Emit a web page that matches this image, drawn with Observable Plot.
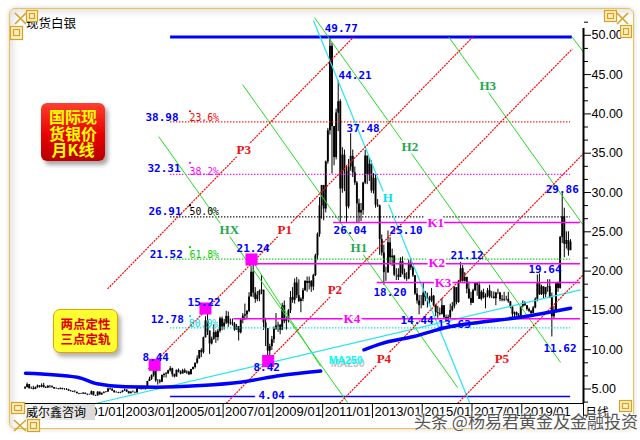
<!DOCTYPE html>
<html>
<head>
<meta charset="utf-8">
<script src="https://cdn.jsdelivr.net/npm/d3@7"></script>
<script src="https://cdn.jsdelivr.net/npm/@observablehq/plot@0.6"></script>
<style>
html,body{margin:0;padding:0;background:#fff;}
#wrap{position:relative;width:640px;height:440px;overflow:hidden;background:#fff;font-family:"Noto Sans CJK SC",sans-serif;}
#frame{position:absolute;left:9px;top:8px;width:623px;height:419px;border:1.5px solid #eec24a;border-radius:6px;box-shadow:0 0 5px rgba(0,0,0,.18), inset 4px 4px 6px rgba(0,0,0,.10);}
#chart{position:absolute;left:0;top:0;}
.ab{position:absolute;white-space:nowrap;}
#title{left:26px;top:16px;font-size:12.5px;line-height:14px;color:#000;}
#badge1{left:41px;top:103px;width:64px;height:58px;border-radius:6px;background:linear-gradient(#ff4030,#e80000 55%,#b80000);box-shadow:3px 4px 4px rgba(0,0,0,.35);color:#ffff00;font-weight:bold;font-size:16px;line-height:16.5px;text-align:center;padding-top:5px;box-sizing:border-box;}
#badge2{left:53px;top:309px;width:65px;height:44px;border-radius:7px;background:#ffff30;border:1.5px solid #e8a000;box-shadow:3px 4px 4px rgba(0,0,0,.3);color:#e00000;font-weight:bold;font-size:12.5px;line-height:15px;text-align:center;padding-top:6px;box-sizing:border-box;}
#src{left:23px;top:404px;width:72px;height:16px;background:linear-gradient(90deg,#f6f6f6,#dadada);font-size:12px;line-height:16px;padding-left:3px;box-sizing:border-box;color:#000;}
#period{left:585px;top:403px;font-size:12px;color:#000;}
#wm{left:414px;top:408px;font-size:17px;color:#555;text-shadow:0 0 2px #fff,0 0 2px #fff,0 0 3px #fff;}
</style>
</head>
<body>
<div id="wrap">
  <div id="frame"></div>
  <div id="chart"></div>
  <div class="ab" id="title">现货白银</div>
  <div class="ab" id="badge1">国际现<br>货银价<br>月K线</div>
  <div class="ab" id="badge2">两点定性<br>三点定轨</div>
  <div class="ab" id="src">威尔鑫咨询</div>
  <div class="ab" id="period">月线</div>
  <svg class="ab" style="left:0;top:0" width="640" height="440">
    <g fill="#fbefc4" stroke="#d4a326" stroke-width="1.2">
      <rect x="26.5" y="10.5" width="11" height="11"/><rect x="29.5" y="13.5" width="5" height="5" fill="none"/>
      <rect x="10.5" y="26.5" width="12" height="13"/><rect x="13.5" y="29.5" width="6" height="6" fill="none"/>
      <rect x="604.5" y="10.5" width="12" height="11"/><rect x="607.5" y="13.5" width="6" height="5" fill="none"/>
      <rect x="620.5" y="25.5" width="11" height="12"/><rect x="623.5" y="28.5" width="5" height="6" fill="none"/>
      <rect x="11.5" y="402.5" width="13" height="11"/><rect x="14.5" y="405.5" width="7" height="5" fill="none"/>
      <rect x="27.5" y="419.5" width="12" height="12"/><rect x="30.5" y="422.5" width="6" height="6" fill="none"/>
      <rect x="619.5" y="400.5" width="12" height="11"/><rect x="622.5" y="403.5" width="6" height="5" fill="none"/>
    </g>
    <g stroke="#d4a326" stroke-width="1.6">
      <path d="M15 13 L26 24 M26 13 L15 24"/>
      <path d="M617 13 L628 24 M628 13 L617 24"/>
      <path d="M14 420 L26 431 M26 420 L14 431"/>
    </g>
  </svg>
  <div class="ab" id="wm">头条 @杨易君黄金及金融投资</div>
</div>
<script>
// ---------- monthly silver K-line, Jan 1999 .. Dec 2020 ----------
const firstYear = 1999;
const firstOpen = 5.0;
const hi = [
5.30,5.75,5.58,5.25,5.35,5.25,5.50,5.42,5.65,5.72,5.30,5.45,
5.45,5.40,5.20,5.15,5.05,5.15,5.10,5.05,5.05,4.95,4.82,4.72,
4.80,4.60,4.45,4.45,4.55,4.50,4.35,4.35,4.75,4.65,4.20,4.65,
4.62,4.48,4.65,4.65,5.10,5.10,5.05,4.80,4.65,4.60,4.60,4.77,
4.98,4.90,4.70,4.65,4.77,4.62,5.15,5.25,5.35,5.25,5.30,5.97,
6.50,6.80,7.60,8.44,6.20,6.20,6.80,7.00,7.10,7.40,7.85,7.65,
6.90,7.40,7.55,7.30,7.50,7.55,7.30,7.25,7.50,7.80,8.30,9.23,
9.90,10.13,11.60,14.20,15.22,12.40,11.60,13.20,12.40,12.60,14.15,14.15,
13.85,14.90,14.80,13.90,13.90,13.45,13.20,12.95,13.80,14.60,15.80,15.00,
17.25,20.60,21.24,17.90,17.40,17.60,19.45,17.50,14.00,12.70,10.70,11.70,
12.90,14.60,13.50,13.20,15.90,16.20,14.20,15.10,17.40,17.90,19.00,19.20,
18.90,16.60,17.80,18.80,19.25,19.25,18.80,19.60,22.15,24.85,29.35,30.90,
30.80,34.00,38.15,49.77,49.00,38.30,40.60,44.21,41.80,35.70,35.40,33.40,
34.20,37.48,35.40,33.25,31.40,29.15,28.60,31.30,35.35,34.60,34.40,34.00,
32.40,32.25,29.10,28.40,24.60,23.30,20.50,25.10,24.25,22.80,22.00,20.30,
20.30,21.70,21.80,20.25,19.80,21.40,21.60,20.60,19.40,17.80,16.90,16.90,
18.50,17.40,17.20,16.80,17.80,16.90,15.70,15.50,15.30,16.50,15.60,14.40,
14.40,15.80,16.00,18.00,17.80,18.80,21.12,20.70,19.80,19.20,18.60,17.30,
17.70,18.50,18.50,18.60,17.50,17.70,17.10,17.80,18.20,17.40,17.35,17.30,
17.70,17.30,16.90,17.30,16.80,17.30,16.10,15.50,14.80,14.80,14.60,15.50,
16.20,16.10,15.60,15.30,15.00,15.50,16.60,19.50,19.64,18.20,18.00,17.90,
18.90,18.90,17.20,15.50,18.50,18.60,24.40,29.86,28.00,25.00,25.00,24.00
];
const lo = [
4.98,5.15,4.97,4.95,4.88,4.92,5.10,5.12,5.15,5.10,5.05,5.08,
5.10,5.08,4.98,4.95,4.88,4.90,4.88,4.84,4.82,4.70,4.62,4.55,
4.50,4.38,4.27,4.30,4.30,4.30,4.15,4.20,4.22,4.13,4.05,4.10,
4.22,4.20,4.40,4.50,4.58,4.85,4.70,4.50,4.50,4.40,4.40,4.50,
4.70,4.55,4.37,4.38,4.50,4.40,4.45,4.98,4.85,4.90,4.85,5.20,
5.95,6.10,6.50,5.85,5.50,5.65,5.80,6.40,6.40,6.85,7.15,6.50,
6.40,6.50,7.05,6.80,6.90,7.00,6.85,6.70,6.80,7.40,7.55,8.15,
8.80,9.00,9.45,11.50,11.80,9.40,10.60,11.20,10.80,11.10,12.10,12.40,
12.50,13.20,12.85,13.10,13.00,12.35,12.50,11.10,12.00,13.30,13.70,13.80,
14.70,16.70,16.60,15.90,16.10,16.10,17.00,12.45,10.40,8.42,8.85,9.90,
10.80,12.45,12.20,11.90,12.50,13.30,12.50,13.40,14.60,15.90,15.80,16.50,
16.00,14.70,16.10,17.45,17.30,17.60,17.30,17.50,19.30,21.40,24.30,26.60,
26.40,27.40,33.60,37.30,32.35,33.40,34.15,37.75,26.04,29.90,30.10,26.20,
27.90,32.70,31.90,30.90,26.10,26.20,26.30,27.10,31.00,31.00,31.40,29.90,
29.80,28.00,28.10,22.00,21.90,18.20,18.70,19.70,20.80,20.60,19.30,18.80,
18.80,19.20,19.50,18.90,18.70,18.90,20.10,19.20,16.90,15.80,14.44,15.20,
15.60,16.10,15.30,15.70,16.00,15.50,14.20,14.00,14.30,14.40,13.90,13.63,
13.60,13.90,14.80,15.20,15.70,15.90,18.50,18.60,18.60,17.10,16.40,15.60,
15.90,17.40,16.80,16.40,16.20,16.45,15.20,16.60,16.50,16.50,16.45,15.60,
17.00,16.10,16.10,16.10,16.20,15.90,15.20,14.00,14.00,14.30,13.90,14.20,
15.30,15.50,14.90,14.70,14.30,14.60,15.20,16.10,16.90,16.90,16.50,16.60,
17.30,16.50,11.62,13.90,14.90,17.30,17.70,23.50,21.70,22.80,21.90,22.60
];
const cl = [
5.17,5.55,5.05,5.07,4.95,5.17,5.38,5.24,5.43,5.18,5.12,5.33,
5.30,5.18,5.00,5.01,4.96,5.05,4.93,4.95,4.88,4.74,4.69,4.59,
4.58,4.41,4.33,4.37,4.45,4.33,4.26,4.27,4.65,4.15,4.12,4.60,
4.24,4.45,4.55,4.62,5.00,4.92,4.75,4.52,4.55,4.48,4.55,4.74,
4.85,4.63,4.40,4.60,4.57,4.53,5.09,5.00,5.15,5.03,5.28,5.95,
6.24,6.70,7.46,6.03,6.02,5.87,6.72,6.84,6.93,7.32,7.57,6.82,
6.54,7.38,7.12,6.91,7.32,7.04,7.15,6.82,7.47,7.74,8.27,8.83,
9.90,9.62,11.51,13.66,12.36,10.74,11.32,12.17,11.55,12.35,13.93,12.90,
13.39,14.23,13.31,13.38,13.27,12.49,12.89,12.15,13.78,14.27,14.45,14.87,
16.72,19.85,17.20,16.39,16.93,17.43,17.58,13.40,12.68,9.82,10.40,11.27,
12.59,13.03,13.11,12.48,15.61,13.57,13.95,14.95,16.65,16.28,18.49,16.88,
16.13,16.43,17.50,18.67,18.44,18.67,17.97,19.43,21.94,24.67,28.30,30.90,
27.90,33.90,37.85,48.60,38.40,34.45,40.10,41.55,30.45,34.75,32.70,28.18,
33.25,34.60,32.50,31.20,28.55,27.40,27.70,31.20,34.65,32.30,33.60,30.20,
31.80,28.40,28.30,24.00,22.30,19.80,19.80,23.60,21.70,21.90,19.50,19.50,
19.20,21.20,19.70,19.10,19.00,21.00,20.40,19.40,17.10,16.20,15.60,15.60,
17.20,16.60,16.60,16.20,16.80,15.60,14.70,14.60,14.50,15.60,14.10,13.80,
14.10,15.00,15.50,17.90,16.00,18.70,20.30,18.70,19.20,17.70,16.50,15.90,
17.50,18.40,18.20,16.40,17.30,16.60,16.80,17.50,16.70,16.70,16.50,17.20,
17.20,16.40,16.30,16.40,16.40,16.10,15.40,14.50,14.70,14.30,14.20,15.50,
15.90,15.60,15.10,14.90,14.60,15.30,16.40,18.40,17.00,18.00,17.00,17.90,
18.00,16.60,14.20,15.00,18.40,17.80,24.30,26.90,23.40,23.90,22.60,23.70
];

// ---------- MA250 (two drawn segments), [year, price] ----------
const ma250a = [[1999.06,7.01],[2001.14,6.50],[2001.94,5.66],[2003.08,5.29],[2004.35,5.23],[2006.09,5.45],[2007.70,5.87],[2009.31,6.72],[2010.92,7.29]];
const ma250b = [[2012.66,9.99],[2013.33,10.75],[2014.66,11.68],[2016.01,12.86],[2017.34,13.50],[2018.95,14.13],[2020.96,15.28]];

// ---------- Fibonacci retracement 4.04 -> 49.77 ----------
const highLow = [49.77, 4.04];
const fibLevels = [38.98, 32.31, 26.91, 21.52, 12.78];
const fibPct = ["23.6%", "38.2%", "50.0%", "61.8%", "80.9%"];
const fibColors = ["#ff0000", "#ff00ff", "#000000", "#00d000", "#00dcdc"];
const fibSpan = [2004.89, 2020.96];
const fibGap50 = [2015.13, 2015.87];
const fibPctPos = [[2005.65,39.16],[2005.65,32.29],[2005.65,27.16],[2005.65,21.73],[2005.62,12.95]];
const fibDotPos = [[2005.67,40.34],[2005.67,33.78],[2005.67,28.35],[2005.67,23.04],[2005.67,14.26]];

// ---------- horizontal K lines ----------
const kNames = ["K1", "K2", "K3", "K4"];
const kLevels = [26.18, 20.93, 18.55, 13.93];
const kStart = [2011.44, 2008.30, 2013.19, 2007.43];
const kEnd = 2021.36;
const kLabelPos = [[2015.21,25.67],[2015.25,20.46],[2015.50,18.04],[2011.84,13.46]];

// ---------- parallel channel lines P (red) : [name, x1, y1, x2, y2] ----------
const pLines = [
  ["P3", 2002.36, 17.74, 2012.24, 49.77],
  ["P1", 2004.00, 7.56, 2017.03, 49.77],
  ["P2", 2007.12, 3.16, 2021.03, 48.28],
  ["P4", 2011.67, 3.16, 2021.48, 34.96],
  ["P5", 2016.42, 3.16, 2021.48, 19.57]
];
const pLabelPos = [[2007.54,34.96],[2009.19,24.66],[2011.20,17.15],[2013.17,8.37],[2017.91,8.37]];

// ---------- descending lines H (green) ----------
const hLines = [
  ["HX", 2004.41, 37.12, 2012.00, 3.28],
  ["HX'", 2008.14, 21.48, 2010.92, 7.86],
  ["H1", 2007.78, 43.74, 2016.42, 5.19],
  ["H2", 2010.67, 52.26, 2020.56, 8.37],
  ["H3", 2016.07, 49.77, 2021.48, 25.80],
  ["H4", 2021.03, 49.77, 2021.48, 47.85]
];
const hLabels = [["HX",2006.86,24.78],["H1",2012.12,22.49],["H2",2014.17,35.22],["H3",2017.30,43.10]];

// ---------- cyan lines ----------
const cyanLines = [
  ["H", 2010.63, 51.88, 2016.90, 3.28],
  ["trend", 2001.88, 3.16, 2021.36, 17.62]
];
const cyanLabel = [["H", 2013.41, 28.85]];
const maLabel = [["MA250", 2011.24, 8.12]];

// ---------- pivot squares ----------
const pivots = [[2004.25,8.07],[2006.29,15.24],[2008.14,21.48],[2008.81,8.56]];

// ---------- blue price labels [text, x(left), y(baseline)] ----------
const priceLabels = [
  ["49.77",2011.08,50.36],["44.21",2011.64,44.48],["37.48",2011.96,37.76],
  ["38.98",2003.88,39.16],["32.31",2003.96,32.55],["26.91",2004.00,27.20],["21.52",2004.05,21.73],["12.78",2004.09,13.35],
  ["15.22",2005.57,15.62],["8.44",2003.76,8.50],["21.24",2007.54,22.37],["8.42",2008.22,7.23],
  ["26.04",2011.44,24.66],["25.10",2013.69,24.66],["18.20",2013.04,16.77],["21.12",2016.14,21.48],
  ["14.44",2014.13,13.21],["13.63",2015.62,12.70],["19.64",2019.27,19.82],["11.62",2019.87,9.77],["29.86",2019.96,30.00]
];
const lowLabel = [["4.04", 2008.42, 3.79]];

// ---------- axes ----------
const majorTicks = [5, 10, 15, 20, 25, 30, 35, 40, 45, 50];
const dateYears = [2001, 2003, 2005, 2007, 2009, 2011, 2013, 2015, 2017, 2019];

// ---------- build ----------
const xDomain = [1998.94, 2021.48];
const yDomain = [3.155, 52.265];

const bars = hi.map((h, i) => ({
  t: firstYear + (i + 0.5) / 12,
  hi: h, lo: lo[i], cl: cl[i],
  op: i ? cl[i - 1] : firstOpen
}));

const fibSegs = [];
fibLevels.forEach((v, i) => {
  if (i === 2) {
    fibSegs.push({v, a: fibSpan[0], b: fibGap50[0], c: fibColors[i]});
    fibSegs.push({v, a: fibGap50[1], b: fibSpan[1], c: fibColors[i]});
  } else fibSegs.push({v, a: fibSpan[0], b: fibSpan[1], c: fibColors[i]});
});
const fibPctData = fibPct.map((p, i) => ({p, x: fibPctPos[i][0], y: fibPctPos[i][1], c: fibColors[i]}));
const fibDotData = fibDotPos.map((d, i) => ({x: d[0], y: d[1], c: fibColors[i]}));
const kData = kLevels.map((v, i) => ({v, a: kStart[i], b: kEnd, n: kNames[i], lx: kLabelPos[i][0], ly: kLabelPos[i][1]}));
const maData = [...ma250a.map(d => ({t: d[0], v: d[1], s: "a"})), ...ma250b.map(d => ({t: d[0], v: d[1], s: "b"}))];
const minorTicks = [];
majorTicks.forEach(m => { minorTicks.push(m - 5/3, m - 10/3); });
minorTicks.push(50 + 5/3);

const lineFont = {fontFamily: "Liberation Serif", fontWeight: "bold", fontSize: 13, textAnchor: "start", lineAnchor: "bottom", stroke: "white", strokeWidth: 5};
const numFont = {fontFamily: "DejaVu Sans Mono", fontWeight: "bold", fontSize: 11, textAnchor: "start", lineAnchor: "bottom"};

const chart = Plot.plot({
  width: 640, height: 440,
  marginLeft: 22, marginRight: 57, marginTop: 17, marginBottom: 37,
  x: {type: "linear", domain: xDomain},
  y: {type: "linear", domain: yDomain},
  style: {background: "transparent", overflow: "visible"},
  marks: [
    // candles
    Plot.ruleX(bars, {x: "t", y1: "lo", y2: "hi", stroke: "black", strokeWidth: 1}),
    Plot.ruleX(bars, {x: "t", y1: "op", y2: "cl", stroke: "black", strokeWidth: 1.9}),
    // fibonacci dotted lines
    Plot.ruleY(fibSegs, {y: "v", x1: "a", x2: "b", stroke: "c", strokeWidth: 1.3, strokeDasharray: "1.3,1.7"}),
    // high & low lines
    Plot.ruleY([highLow[0]], {x1: fibSpan[0], x2: 2021.03, stroke: "#0000ff", strokeWidth: 3}),
    Plot.ruleY([highLow[1]], {x1: fibSpan[0], x2: fibSpan[1], stroke: "#0000ff", strokeWidth: 1.6}),
    // green H lines
    Plot.link(hLines, {x1: d => d[1], y1: d => d[2], x2: d => d[3], y2: d => d[4], stroke: "#22dd22", strokeWidth: 1}),
    // cyan lines
    Plot.link(cyanLines, {x1: d => d[1], y1: d => d[2], x2: d => d[3], y2: d => d[4], stroke: "#22e6f0", strokeWidth: 1.2}),
    // red P lines
    Plot.link(pLines, {x1: d => d[1], y1: d => d[2], x2: d => d[3], y2: d => d[4], stroke: "#ff0000", strokeWidth: 1.2, strokeDasharray: "2,1"}),
    // K lines
    Plot.ruleY(kData, {y: "v", x1: "a", x2: "b", stroke: "#ff00ff", strokeWidth: 1.6}),
    // MA250
    Plot.line(maData, {x: "t", y: "v", z: "s", stroke: "#0000ff", strokeWidth: 3.5, curve: "monotone-x"}),
    // pivots
    Plot.dot(pivots, {x: d => d[0], y: d => d[1], symbol: "square", r: 6.8, fill: "#ff00ff", stroke: "none"}),
    // labels
    Plot.text(priceLabels, {x: d => d[1], y: d => d[2], text: d => d[0], fill: "#0000ff", ...numFont}),
    Plot.text(lowLabel, {x: d => d[1], y: d => d[2], text: d => d[0], fill: "#0000ff", ...numFont, stroke: "white", strokeWidth: 8}),
    Plot.text(fibPctData, {x: "x", y: "y", text: "p", fill: "c", fontFamily: "DejaVu Sans Mono", fontSize: 9.8, textAnchor: "start", lineAnchor: "bottom"}),
    Plot.dot(fibDotData, {x: "x", y: "y", r: 1.1, fill: "c", stroke: "none"}),
    Plot.text(pLines, {x: (d, i) => pLabelPos[i][0], y: (d, i) => pLabelPos[i][1], text: d => d[0], fill: "#ee1111", ...lineFont}),
    Plot.text(hLabels, {x: d => d[1], y: d => d[2], text: d => d[0], fill: "#1fa84f", ...lineFont}),
    Plot.text(cyanLabel, {x: d => d[1], y: d => d[2], text: d => d[0], fill: "#00e0f0", ...lineFont}),
    Plot.text(kData, {x: "lx", y: "ly", text: "n", fill: "#ff00ff", ...lineFont, strokeWidth: 4}),
    Plot.text(maLabel, {x: d => d[1], y: d => d[2], text: d => d[0], fill: "#888", fillOpacity: 0.55, dx: 2, dy: 3, fontFamily: "Liberation Sans", fontWeight: "bold", fontSize: 10.5, textAnchor: "start", lineAnchor: "bottom"}),
    Plot.text(maLabel, {x: d => d[1], y: d => d[2], text: d => d[0], fill: "#00ffff", fontFamily: "Liberation Sans", fontWeight: "bold", fontSize: 10.5, textAnchor: "start", lineAnchor: "bottom"}),
    // frame lines: bottom and right axis
    Plot.ruleY([yDomain[0]], {x1: xDomain[0], x2: xDomain[1], stroke: "black", strokeWidth: 1}),
    Plot.ruleX([xDomain[1]], {y1: yDomain[0], y2: 50.87, stroke: "black", strokeWidth: 2}),
    Plot.axisY(majorTicks, {anchor: "right", tickSize: 7, tickPadding: 1, tickFormat: d => d.toFixed(2), fontSize: 12.5, fontFamily: "Liberation Sans", label: null}),
    Plot.axisY(minorTicks, {anchor: "right", tickSize: 4, tickFormat: () => "", label: null}),
    Plot.axisX([...dateYears, xDomain[1]], {anchor: "bottom", tickSize: 15, tickFormat: () => "", label: null}),
    Plot.axisX(dateYears, {anchor: "bottom", tickSize: 0, tickPadding: 3, textAnchor: "start", dx: 2, tickFormat: d => `${d}/01`, fontSize: 13, fontFamily: "Liberation Sans", label: null})
  ]
});
document.getElementById("chart").appendChild(chart);
</script>
</body>
</html>
